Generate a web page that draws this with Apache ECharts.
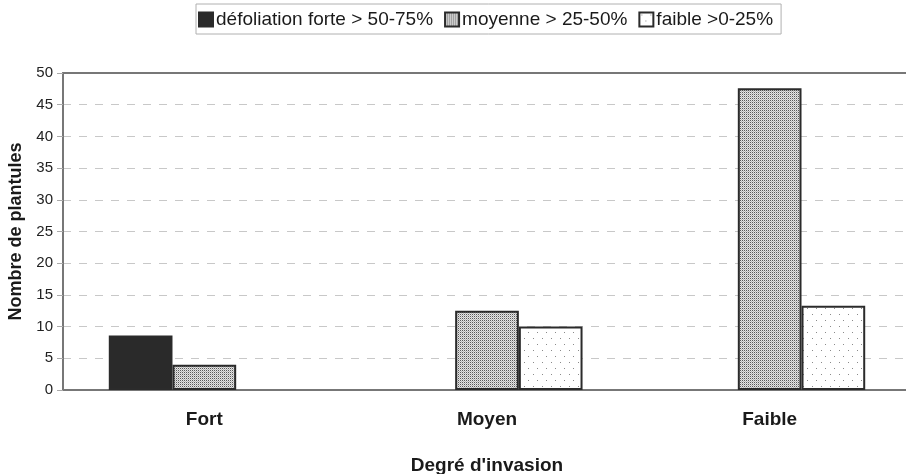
<!DOCTYPE html>
<html><head><meta charset="utf-8">
<script src="https://cdn.jsdelivr.net/npm/echarts@6/dist/echarts.min.js"></script>
<style>html,body{margin:0;padding:0;background:#fff}#c{width:906px;height:474px}</style>
</head><body><div id="c"></div>
<script>
const categories = ['Fort', 'Moyen', 'Faible'];
const seriesNames = ['défoliation forte > 50-75%', 'moyenne > 25-50%', 'faible >0-25%'];
const forte = [8.6, null, null];
const moyenne = [4.0, 12.5, 47.6];
const faible = [null, 10.0, 13.3];
const yTicks = [0, 5, 10, 15, 20, 25, 30, 35, 40, 45, 50];

function densePattern() {
  const c = document.createElement('canvas'); c.width = 2; c.height = 2;
  const g = c.getContext('2d');
  g.fillStyle = '#e4e4e4'; g.fillRect(0, 0, 2, 2);
  g.fillStyle = '#5a5a5a'; g.fillRect(0, 0, 1, 1);
  g.fillStyle = '#b8b8b8'; g.fillRect(1, 1, 1, 1);
  return c;
}
function sparsePattern() {
  const c = document.createElement('canvas'); c.width = 9; c.height = 12;
  const g = c.getContext('2d');
  g.fillStyle = '#ffffff'; g.fillRect(0, 0, 9, 12);
  g.fillStyle = '#8a8a8a';
  g.fillRect(2, 2, 1, 1);
  g.fillRect(6, 8, 1, 1);
  return c;
}

const chart = echarts.init(document.getElementById('c'), null, {renderer: 'canvas'});
const border = {borderColor: '#2b2b2b', borderWidth: 2};
chart.setOption({
  animation: false,
  textStyle: {fontFamily: 'Liberation Sans, Arial, sans-serif'},
  legend: {
    top: 4, left: 196,
    data: seriesNames,
    borderColor: '#b0b0b0', borderWidth: 1, padding: [6, 8, 5, 2],
    itemWidth: 14, itemHeight: 14, itemGap: 11,
    textStyle: {fontSize: 19, color: '#1a1a1a', padding: [0, 0, 0, -2]},
    icon: 'rect'
  },
  grid: {left: 63, width: 848, top: 73, bottom: 84, containLabel: false, outerBoundsMode: 'none'},
  xAxis: [{
    type: 'category', data: categories,
    axisLine: {lineStyle: {color: '#777', width: 2}},
    axisTick: {show: false},
    axisLabel: {fontSize: 19, fontWeight: 'bold', color: '#1a1a1a', margin: 20},
    name: "Degré d'invasion", nameLocation: 'middle', nameGap: 66,
    nameTextStyle: {fontSize: 19, fontWeight: 'bold', color: '#1a1a1a'}
  }, {
    type: 'category', data: categories, position: 'top',
    axisLine: {lineStyle: {color: '#777', width: 2}},
    axisTick: {show: false}, axisLabel: {show: false}
  }],
  yAxis: {
    type: 'value', min: 0, max: 50, interval: 5,
    axisLine: {show: true, lineStyle: {color: '#777', width: 2}},
    axisTick: {show: true, length: 6, lineStyle: {color: '#aaa'}},
    axisLabel: {fontSize: 15, color: '#222', margin: 10,
      formatter: v => yTicks.includes(v) ? String(v) : ''},
    splitLine: {show: true, lineStyle: {color: '#c8c8c8', type: [8, 8], width: 1}},
    name: 'Nombre de plantules', nameLocation: 'middle', nameGap: 35,
    nameTextStyle: {fontSize: 18, fontWeight: 'bold', color: '#1a1a1a'}
  },
  series: [
    {name: seriesNames[0], type: 'bar', data: forte, barGap: '0%', barCategoryGap: '32.4%',
     itemStyle: Object.assign({color: '#2a2a2a'}, border)},
    {name: seriesNames[1], type: 'bar', data: moyenne, barGap: '0%', barCategoryGap: '32.4%',
     itemStyle: Object.assign({color: {image: densePattern(), repeat: 'repeat'}}, border)},
    {name: seriesNames[2], type: 'bar', data: faible, barGap: '0%', barCategoryGap: '32.4%',
     itemStyle: Object.assign({color: {image: sparsePattern(), repeat: 'repeat'}}, border)}
  ]
});
</script></body></html>
